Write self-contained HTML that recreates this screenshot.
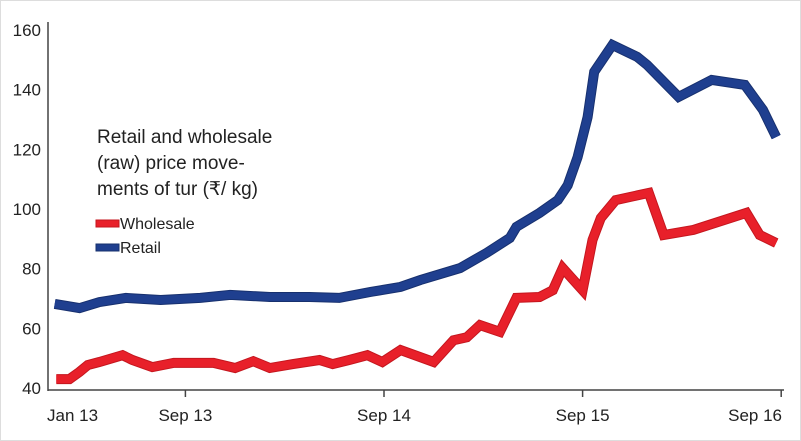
<!DOCTYPE html>
<html><head><meta charset="utf-8"><style>
body{margin:0;background:#fff}
svg{display:block;font-family:"Liberation Sans",sans-serif}
</style></head><body>
<svg width="801" height="441" viewBox="0 0 801 441">
<rect x="0.5" y="0.5" width="800" height="440" fill="#fff" stroke="#ddd"/>
<g id="axes"></g>
<g id="series"></g>
<g font-size="19" fill="#222">
<text x="97" y="143">Retail and wholesale</text>
<text x="97" y="169">(raw) price move-</text>
<text x="97" y="195">ments of tur (₹/ kg)</text>
</g>
<g font-size="16" fill="#222">
<g><rect x="96" y="220" width="23" height="7" fill="#e8202a" stroke="#c4161e"/><text x="120" y="229">Wholesale</text></g>
<g><rect x="96" y="244" width="23" height="7" fill="#1f3f8f" stroke="#17306e"/><text x="120" y="253">Retail</text></g>
</g>
</svg>
<script>
const yTicks=[40,60,80,100,120,140,160];
const xTickMonths=[0,8,20,32,44];
const xTickLabels=["Jan 13","Sep 13","Sep 14","Sep 15","Sep 16"];
const retailMonths=[0.1,1.6,2.8,4.4,6.5,8.9,10.7,13.1,15.5,17.3,19.2,21,22.2,24.6,26.2,27.6,28,29.4,30.5,31.1,31.7,32.3,32.7,33.8,35.3,35.9,37.8,39.8,41.8,42.9,43.7];
const retailValues=[68.2,66.8,68.8,70.2,69.5,70.2,71.2,70.5,70.5,70.2,72.2,73.9,76.2,80.2,85.3,90.3,94,98.7,103,108,117.4,130.8,146,155,151,148.3,137.6,143.3,141.6,133.2,124.1];
const wholesaleMonths=[0.2,1,1.6,2.1,2.8,4.2,4.8,6,7.3,9.7,11,12.1,13.1,14.5,16.1,16.9,17.9,19,19.9,21,23,24.2,25,25.8,27,28,29.4,30.2,30.8,32,32.6,33.1,34,36,36.9,38.7,41.9,42.7,43.7];
const wholesaleValues=[43,43,45.4,47.7,48.7,51,49.4,47,48.4,48.4,46.7,49,46.7,48,49.4,48,49.4,51,48.7,52.7,48.7,56,57,61.1,58.8,70.2,70.5,72.8,80.2,72.8,89.6,97,103,105.4,91.3,93,98.7,91.3,88.6];
const NS="http://www.w3.org/2000/svg";
const X=m=>53+16.55*m;
const Y=v=>388-(v-40)*2.983;
function mk(t,a,p){const e=document.createElementNS(NS,t);for(const k in a)e.setAttribute(k,a[k]);p.appendChild(e);return e;}
const ax=document.getElementById('axes');
const yl=mk('line',{x1:48,y1:22,x2:48,y2:391,stroke:'#444','stroke-width':1.5},ax);


const xl=mk('line',{x1:48,y1:390,x2:784,y2:390,stroke:'#444','stroke-width':1.5},ax);


yTicks.forEach(v=>{const t=mk('text',{x:41,y:Y(v)+6,'text-anchor':'end','font-size':17,fill:'#222'},ax);t.textContent=v;

});
const last=xTickMonths.length-1;
xTickMonths.forEach((m,i)=>{const x=i==0?48:X(m);
if(i>0){const tk=mk('line',{x1:x,y1:390,x2:x,y2:397,stroke:'#444','stroke-width':1.5},ax);

}
const t=mk('text',{x:i==0?47:(i==last?782:x),y:421,'text-anchor':i==0?'start':(i==last?'end':'middle'),'font-size':17,fill:'#222'},ax);t.textContent=xTickLabels[i];

});
const sg=document.getElementById('series');
function line(ms,vs,col,edge,name){
const d=ms.map((m,i)=>(i?'L':'M')+X(m).toFixed(1)+','+Y(vs[i]).toFixed(1)).join(' ');
mk('path',{d:d,fill:'none',stroke:edge,'stroke-width':10,'stroke-linejoin':'miter'},sg);
const p=mk('path',{d:d,fill:'none',stroke:col,'stroke-width':8,'stroke-linejoin':'miter'},sg);

}
line(wholesaleMonths,wholesaleValues,'#e8202a','#c4161e','wholesale-line');
line(retailMonths,retailValues,'#1f3f8f','#17306e','retail-line');
</script>
</body></html>
